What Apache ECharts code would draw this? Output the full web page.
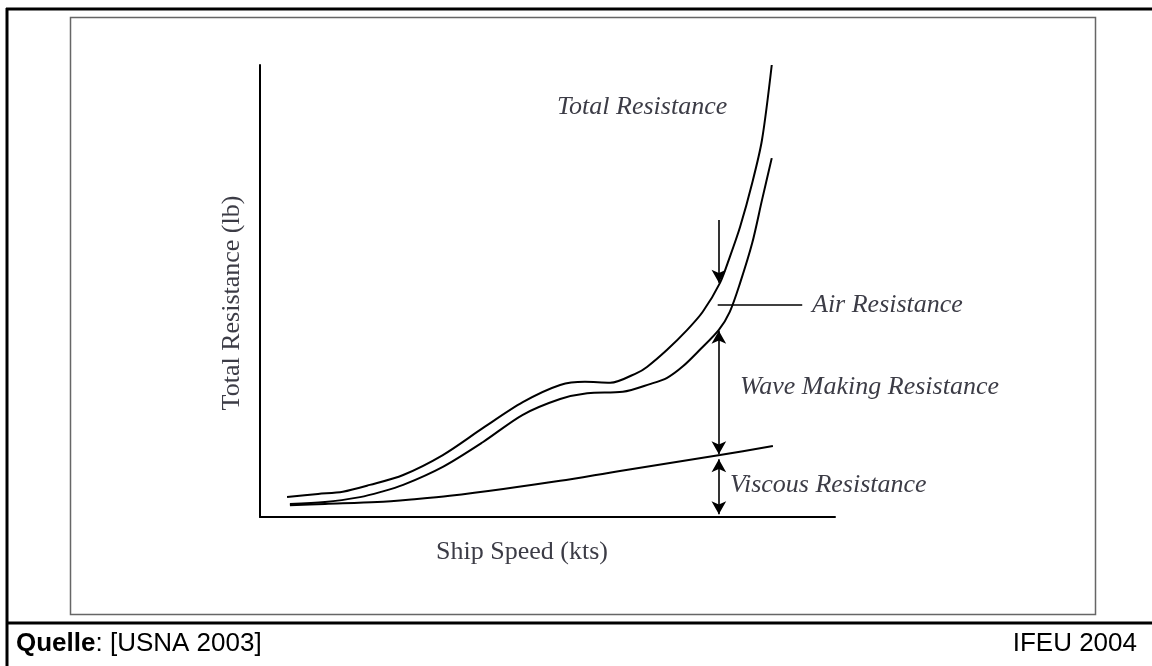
<!DOCTYPE html>
<html>
<head>
<meta charset="utf-8">
<title>Ship Resistance</title>
<script src="https://cdn.jsdelivr.net/npm/echarts@6/dist/echarts.min.js"></script>
<style>
    html, body { margin: 0; padding: 0; background: #fff; }
    #main { width: 1152px; height: 666px; }
</style>
</head>
<body>
<div id="main"></div>
<script>
// 数据：速度 (0-100) / 阻力 (0-100)
var totalSpeed = [4.7, 10.1, 14.4, 19.1, 24.9, 31.8, 38.8, 45.7, 52.2, 56.5, 60.9, 65.6, 67.3, 70.8, 74.3, 77.0, 80.0, 81.7, 83.5, 85.6, 87.3, 89.0];
var totalRes   = [4.4, 5.1, 5.6, 7.1, 9.3, 13.7, 19.7, 25.4, 29.2, 29.9, 29.7, 31.9, 33.2, 37.0, 41.4, 45.4, 51.8, 57.5, 64.2, 73.9, 83.4, 100];

var waveSpeed = [5.2, 11.3, 17.4, 20.9, 24.9, 31.8, 38.8, 45.7, 52.2, 56.9, 63.1, 67.8, 70.8, 73.6, 76.5, 79.8, 81.7, 83.5, 85.6, 87.3, 89.0];
var waveRes   = [2.9, 3.3, 4.4, 5.5, 7.1, 11.1, 16.6, 22.6, 26.1, 27.4, 27.7, 29.4, 30.8, 33.4, 37.0, 41.4, 45.4, 51.8, 60.6, 70.1, 79.4];

var viscSpeed = [5.2, 11.3, 20.4, 27.3, 33.0, 42.3, 52.2, 62.6, 80.0, 89.2];
var viscRes   = [2.6, 2.9, 3.3, 4.0, 4.7, 6.2, 8.0, 10.2, 13.7, 15.7];

// 箭头位置
var arrowX = 79.8;
var airArrow  = [65.7, 51.8];   // 指向总阻力曲线
var waveArrow = [41.2, 13.9];   // 兴波阻力
var viscArrow = [12.8, 0.6];    // 粘性阻力
var airLeader = [79.6, 94.3, 46.9];

function zip(xs, ys) {
    var out = [];
    for (var i = 0; i < xs.length; i++) {
        out.push([xs[i], ys[i]]);
    }
    return out;
}

var serif = '"Liberation Serif", "DejaVu Serif", serif';
var sans = '"Liberation Sans", Arial, sans-serif';
var labelColor = '#3c3c46';

var myChart = echarts.init(document.getElementById('main'));

var curveStyle = { color: '#000', width: 2 };

var option = {
    animation: false,
    backgroundColor: '#fff',
    grid: { left: 260, top: 65, width: 575, height: 452 },
    xAxis: {
        type: 'value', min: 0, max: 100,
        axisLine: { lineStyle: { color: '#000', width: 2 } },
        axisTick: { show: false },
        axisLabel: { show: false },
        splitLine: { show: false }
    },
    yAxis: {
        type: 'value', min: 0, max: 100,
        axisLine: { show: true, lineStyle: { color: '#000', width: 2 } },
        axisTick: { show: false },
        axisLabel: { show: false },
        splitLine: { show: false }
    },
    series: [
        {
            name: 'Total Resistance', type: 'line', smooth: 0.3,
            showSymbol: false, lineStyle: curveStyle,
            data: zip(totalSpeed, totalRes),
            markLine: {
                silent: true,
                symbol: ['none', 'arrow'],
                symbolSize: [11, 13],
                label: { show: false },
                lineStyle: { color: '#000', width: 1.6, type: 'solid' },
                data: [
                    [{ coord: [arrowX, airArrow[0]] }, { coord: [arrowX, airArrow[1]] }],
                    [{ coord: [airLeader[0], airLeader[2]], symbol: 'none' }, { coord: [airLeader[1], airLeader[2]], symbol: 'none' }]
                ]
            }
        },
        {
            name: 'Wave Making Resistance', type: 'line', smooth: 0.3,
            showSymbol: false, lineStyle: curveStyle,
            data: zip(waveSpeed, waveRes),
            markLine: {
                silent: true,
                symbol: ['arrow', 'arrow'],
                symbolSize: [11, 13],
                label: { show: false },
                lineStyle: { color: '#000', width: 1.6, type: 'solid' },
                data: [
                    [{ coord: [arrowX, waveArrow[0]] }, { coord: [arrowX, waveArrow[1]] }],
                    [{ coord: [arrowX, viscArrow[0]] }, { coord: [arrowX, viscArrow[1]] }]
                ]
            }
        },
        {
            name: 'Viscous Resistance', type: 'line', smooth: 0.3,
            showSymbol: false, lineStyle: curveStyle,
            data: zip(viscSpeed, viscRes)
        }
    ],
    graphic: [
        // 外框
        { type: 'line', shape: { x1: 6, y1: 9, x2: 1152, y2: 9 }, style: { stroke: '#000', lineWidth: 3 } },
        { type: 'line', shape: { x1: 7, y1: 8, x2: 7, y2: 666 }, style: { stroke: '#000', lineWidth: 3 } },
        { type: 'line', shape: { x1: 6, y1: 623, x2: 1152, y2: 623 }, style: { stroke: '#000', lineWidth: 3 } },
        // 内框
        { type: 'rect', shape: { x: 70.5, y: 17.5, width: 1025, height: 597 }, style: { fill: 'none', stroke: '#666', lineWidth: 1.5 }, z: -1 },
        // 标注文字
        { type: 'text', x: 557, y: 107, style: { text: 'Total Resistance', font: 'italic 26px ' + serif, fill: labelColor, verticalAlign: 'middle' } },
        { type: 'text', x: 812, y: 305, style: { text: 'Air Resistance', font: 'italic 26px ' + serif, fill: labelColor, verticalAlign: 'middle' } },
        { type: 'text', x: 740, y: 387, style: { text: 'Wave Making Resistance', font: 'italic 26px ' + serif, fill: labelColor, verticalAlign: 'middle' } },
        { type: 'text', x: 730, y: 485, style: { text: 'Viscous Resistance', font: 'italic 26px ' + serif, fill: labelColor, verticalAlign: 'middle' } },
        // 坐标轴名称
        { type: 'text', x: 522, y: 552, style: { text: 'Ship Speed (kts)', font: '26px ' + serif, fill: labelColor, align: 'center', verticalAlign: 'middle' } },
        { type: 'text', x: 232, y: 303, rotation: Math.PI / 2, style: { text: 'Total Resistance (lb)', font: '26px ' + serif, fill: labelColor, align: 'center', verticalAlign: 'middle' } },
        // 来源
        { type: 'text', x: 16, y: 657, style: { text: '{b|Quelle}: [USNA 2003]', font: '26px ' + sans, fill: '#000', verticalAlign: 'bottom', rich: { b: { font: 'bold 26px ' + sans, fill: '#000' } } } },
        { type: 'text', x: 1137, y: 657, style: { text: 'IFEU 2004', font: '26px ' + sans, fill: '#000', align: 'right', verticalAlign: 'bottom' } }
    ]
};

myChart.setOption(option);
</script>
</body>
</html>
